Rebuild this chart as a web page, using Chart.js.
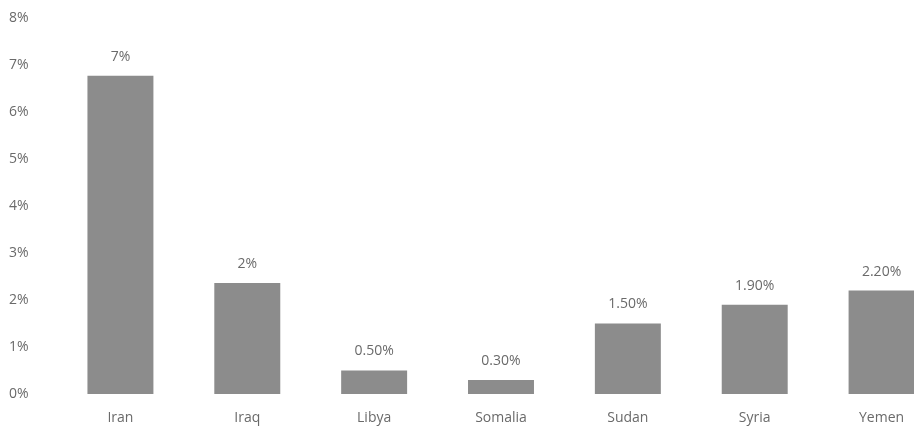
<!DOCTYPE html>
<html>
<head>
<meta charset="utf-8">
<script src="https://cdn.jsdelivr.net/npm/chart.js@4/dist/chart.umd.min.js"></script>
<style>
  html, body { margin: 0; padding: 0; background: #fff; overflow: hidden; }
  #wrap { width: 946px; height: 431px; }
</style>
</head>
<body>
<div id="wrap"><canvas id="chart"></canvas></div>
<script>
/* --- donnees --- */
const countries = ['Iran', 'Iraq', 'Libya', 'Somalia', 'Sudan', 'Syria', 'Yemen'];
const shares    = [6.77, 2.36, 0.5, 0.3, 1.5, 1.9, 2.2];
const barLabels = ['7%', '2%', '0.50%', '0.30%', '1.50%', '1.90%', '2.20%'];
const yTicks    = [0, 1, 2, 3, 4, 5, 6, 7, 8];

const textGrey = '#6a6a6a';
const font = { family: '"Open Sans", "Liberation Sans", sans-serif', size: 14 };

/* etiquettes au-dessus des barres */
const valueLabels = {
  id: 'valueLabels',
  afterDatasetsDraw(chart) {
    const ctx = chart.ctx;
    const meta = chart.getDatasetMeta(0);
    ctx.save();
    ctx.font = `${font.size}px ${font.family}`;
    ctx.fillStyle = textGrey;
    ctx.textAlign = 'center';
    ctx.textBaseline = 'middle';
    meta.data.forEach((bar, i) => {
      ctx.fillText(barLabels[i], bar.x, bar.y - 19);
    });
    ctx.restore();
  }
};

new Chart(document.getElementById('chart'), {
  type: 'bar',
  data: {
    labels: countries,
    datasets: [{
      data: shares,
      backgroundColor: '#8c8c8c',
      borderWidth: 0,
      barPercentage: 0.52,
      categoryPercentage: 1
    }]
  },
  options: {
    responsive: true,
    maintainAspectRatio: false,
    animation: false,
    layout: { padding: { top: 18, right: 1, left: 9, bottom: 0 } },
    plugins: { legend: { display: false }, tooltip: { enabled: false } },
    scales: {
      x: {
        grid: { display: false, drawTicks: false },
        border: { display: false },
        ticks: { color: textGrey, font, padding: 16 },
        afterFit: s => { s.height = 37; }
      },
      y: {
        min: 0,
        max: 8,
        afterBuildTicks: s => { s.ticks = yTicks.map(v => ({ value: v })); },
        grid: { display: false, drawTicks: false },
        border: { display: false },
        ticks: { color: textGrey, font, padding: 3, crossAlign: 'far', callback: v => v + '%' },
        afterFit: s => { s.width = 48; }
      }
    }
  },
  plugins: [valueLabels]
});
</script>
</body>
</html>
